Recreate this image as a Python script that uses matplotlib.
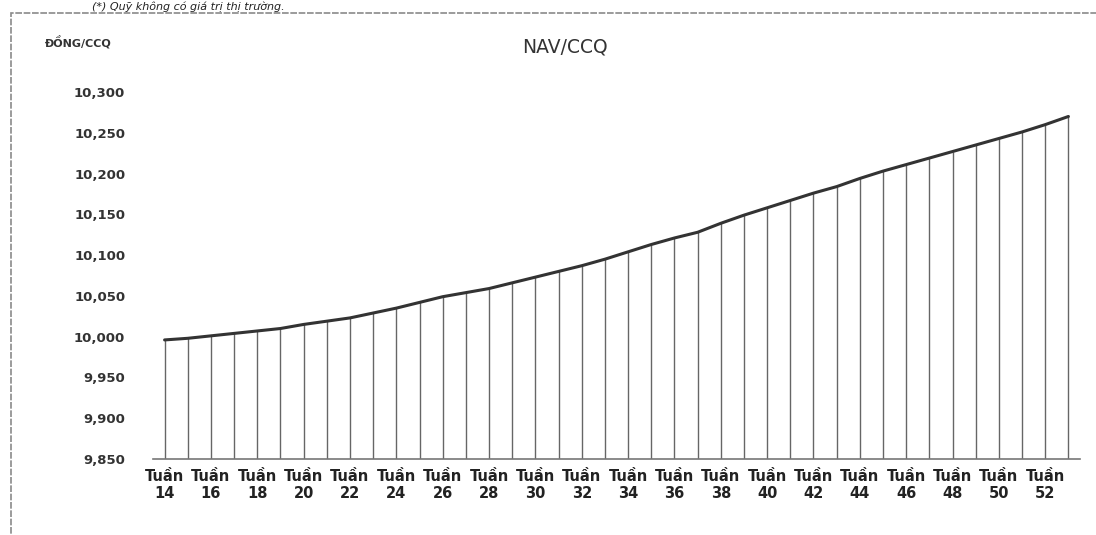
import numpy as np
import matplotlib.pyplot as plt
from matplotlib.patches import Rectangle
from matplotlib.ticker import FuncFormatter

# weekly NAV per fund unit, weeks 14..53
weeks = list(range(14, 54))
nav = [9996, 9998, 10001, 10004, 10007, 10010, 10015, 10019, 10023, 10029,
       10035, 10042, 10049, 10054, 10059, 10066, 10073, 10080, 10087, 10095,
       10104, 10113, 10121, 10128, 10139, 10149, 10158, 10167, 10176, 10184,
       10194, 10203, 10211, 10219, 10227, 10235, 10243, 10251, 10260, 10270]
y_ticks = [9850, 9900, 9950, 10000, 10050, 10100, 10150, 10200, 10250, 10300]
tick_labels = ['Tuần\n%d' % w for w in weeks]

W, H = 1096, 535
fig = plt.figure(figsize=(W / 100, H / 100), dpi=100)
fig.patch.set_facecolor('white')

# outer frame of the chart box (partly cut by the page)
fig.patches.append(Rectangle((11 / W, -0.05), (W - 8) / W, (H - 13) / H + 0.05,
                             transform=fig.transFigure, fill=False,
                             edgecolor='#8a8a8a', lw=1.2, linestyle=(0, (4, 1))))

ax = fig.add_axes([153 / W, (H - 459) / H, (1080 - 153) / W, (459 - 92) / H])
x = np.arange(len(weeks))
ax.vlines(x, 9850, nav, color='#666666', lw=1.0)
ax.plot(x, nav, color='#333333', lw=2.2, solid_capstyle='round')

ax.set_xlim(-0.5, len(weeks) - 0.5)
ax.set_ylim(9850, 10300)
ax.set_yticks(y_ticks)
ax.yaxis.set_major_formatter(FuncFormatter(lambda v, p: '{:,.0f}'.format(v)))
ax.set_xticks(x[::2])
ax.set_xticklabels(tick_labels[::2], fontsize=10.5, fontweight='bold',
                   color='#222222', linespacing=1.2)
for lab in ax.get_yticklabels():
    lab.set_fontsize(9.5)
    lab.set_fontweight('bold')
    lab.set_color('#333333')
ax.tick_params(axis='y', length=0, pad=20)
ax.tick_params(axis='x', length=0, pad=7)

for s in ['top', 'right', 'left']:
    ax.spines[s].set_visible(False)
ax.spines['bottom'].set_color('#777777')
ax.spines['bottom'].set_linewidth(1.2)

fig.text(565 / W, 1 - 47 / H, 'NAV/CCQ', ha='center', va='center',
         fontsize=13.5, color='#333333')
fig.text(45 / W, 1 - 43 / H, 'ĐỒNG/CCQ', ha='left', va='center',
         fontsize=8, fontweight='bold', color='#333333')
fig.text(92 / W, 1 - 1 / H, '(*) Quỹ không có giá trị thị trường.', ha='left',
         va='top', fontsize=8, style='italic', color='#222222')

fig.savefig('out.png', dpi=100)
